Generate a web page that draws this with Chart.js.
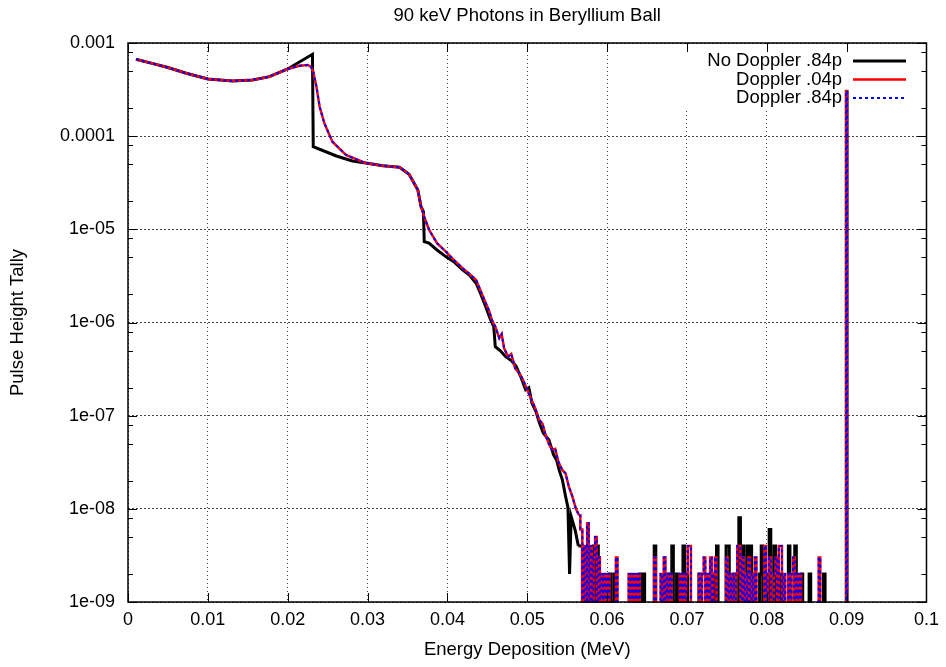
<!DOCTYPE html>
<html>
<head>
<meta charset="utf-8">
<title>90 keV Photons in Beryllium Ball</title>
<script src="https://cdn.jsdelivr.net/npm/chart.js@4"></script>
<style>
  html, body { margin: 0; padding: 0; background: #fff; }
</style>
</head>
<body>
<canvas id="pht" width="946" height="667"></canvas>
<script>
// ---- data ----
const chartTitle = '90 keV Photons in Beryllium Ball';
const seriesLabels = ['No Doppler .84p', 'Doppler .04p', 'Doppler .84p'];

const yTickValues = [1e-9, 1e-8, 1e-7, 1e-6, 1e-5, 1e-4, 1e-3];
const yTickLabels = ['1e-09', '1e-08', '1e-07', '1e-06', '1e-05', '0.0001', '0.001'];
const yMinorSteps = [2, 5, 8];

// continuum, no Doppler broadening (energy MeV, tally)
const noDopE = [0.0010, 0.0030, 0.0050, 0.0073, 0.0100, 0.0131, 0.0156, 0.0177, 0.0200, 0.0231,
  0.0232, 0.0261, 0.0281, 0.0300, 0.0319, 0.0340, 0.0352, 0.0363, 0.0367, 0.0370,
  0.0371, 0.0377, 0.0387, 0.0398, 0.0408, 0.0419, 0.0428, 0.0436, 0.0442, 0.0448,
  0.0454, 0.0458, 0.0460, 0.0466, 0.0473, 0.0480, 0.0486, 0.0492, 0.0498, 0.0502,
  0.0506, 0.0511, 0.0515, 0.0520, 0.0527, 0.0533, 0.0537, 0.0540, 0.0544, 0.0548,
  0.0551, 0.0553, 0.0555, 0.0560, 0.0564];
const noDopV = [6.68e-4, 6.05e-4, 5.45e-4, 4.73e-4, 4.11e-4, 3.91e-4, 4.01e-4, 4.35e-4, 5.26e-4, 7.57e-4,
  7.71e-5, 6.13e-5, 5.42e-5, 5.12e-5, 4.82e-5, 4.64e-5, 3.9e-5, 2.65e-5, 1.75e-5, 1.55e-5,
  7.38e-6, 7.1e-6, 6.0e-6, 5.1e-6, 4.5e-6, 3.67e-6, 3.2e-6, 2.64e-6, 2.0e-6, 1.48e-6,
  1.07e-6, 9.1e-7, 5.5e-7, 5.0e-7, 4.3e-7, 3.9e-7, 3.4e-7, 2.6e-7, 1.9e-7, 2.0e-7,
  1.36e-7, 1.1e-7, 8.5e-8, 6.5e-8, 5.5e-8, 3.8e-8, 3.3e-8, 2.6e-8, 2.05e-8, 1.36e-8,
  1.03e-8, 2e-9, 8.3e-9, 5.9e-9, 4e-9];

// continuum with Doppler broadening (.04p and .84p overlap at this scale)
const dopE = [0.0010, 0.0030, 0.0050, 0.0073, 0.0100, 0.0131, 0.0156, 0.0177, 0.0200, 0.0215,
  0.0225, 0.0229, 0.0232, 0.0236, 0.0240, 0.0246, 0.0256, 0.0273, 0.0298, 0.0319,
  0.0340, 0.0352, 0.0363, 0.0367, 0.0371, 0.0377, 0.0387, 0.0398, 0.0408, 0.0419,
  0.0428, 0.0436, 0.0442, 0.0448, 0.0452, 0.0456, 0.0460, 0.0465, 0.0468, 0.0471,
  0.0476, 0.0480, 0.0485, 0.0490, 0.0495, 0.0500, 0.0505, 0.0510, 0.0515, 0.0519,
  0.0523, 0.0527, 0.0531, 0.0535, 0.0539, 0.0544, 0.0548, 0.0552, 0.0556, 0.0561,
  0.0565];
const dopV = [6.68e-4, 6.05e-4, 5.45e-4, 4.73e-4, 4.11e-4, 3.91e-4, 4.01e-4, 4.35e-4, 5.26e-4, 5.71e-4,
  5.81e-4, 5.57e-4, 4.92e-4, 3.40e-4, 2.07e-4, 1.37e-4, 8.73e-5, 6.28e-5, 5.12e-5, 4.82e-5,
  4.64e-5, 3.9e-5, 2.65e-5, 1.75e-5, 1.37e-5, 9.9e-6, 7.1e-6, 5.77e-6, 4.7e-6, 3.83e-6,
  3.3e-6, 2.86e-6, 2.15e-6, 1.62e-6, 1.35e-6, 1.05e-6, 9.0e-7, 6.8e-7, 7.5e-7, 5.3e-7,
  4.3e-7, 4.6e-7, 3.2e-7, 2.86e-7, 2.4e-7, 1.9e-7, 1.5e-7, 1.2e-7, 9.0e-8, 8.2e-8,
  6.2e-8, 5.0e-8, 4.3e-8, 4.4e-8, 3.2e-8, 2.6e-8, 2.4e-8, 1.74e-8, 1.4e-8, 1.0e-8,
  8.5e-9];

// sparse tail: bins of 0.0002 MeV from 0.0568 MeV, counts in units of 1e-9
const tailStart = 0.0568;
const tailBin = 0.0002;
const tailUnit = 1e-9;
const noDopTail = [
  4,0,3,0,2,0,0,2,4,0,4,0,0,0,0,0,0,0,2,0,
  0,2,0,0,0,0,0,0,0,0,0,0,0,0,0,0,0,2,0,2,
  0,0,0,0,0,0,4,0,0,0,0,0,0,0,2,0,0,4,0,0,
  2,0,0,0,4,0,2,0,0,0,0,0,0,0,2,0,0,0,0,0,
  0,0,0,2,0,4,0,0,0,0,0,4,4,0,0,0,2,0,0,8,
  0,4,0,0,4,0,4,0,2,0,0,0,2,4,0,0,0,0,6,0,
  0,4,0,0,0,2,0,0,0,0,4,0,0,0,4,0,0,0,2,0,
  0,0,0,2,0,0,0,0,0,0,0,0,2,0,0,0,0];
const dopTail = [
  6,0,4,0,7,0,4,0,3,5,0,3,0,2,0,2,0,2,0,0,
  0,0,3,0,0,0,0,0,0,0,2,0,2,0,2,0,2,0,0,0,
  0,0,0,0,0,0,3,0,0,0,2,0,3,0,2,0,2,0,0,0,
  0,0,2,0,2,0,2,4,4,0,0,0,0,0,2,0,2,3,0,2,
  0,3,0,2,3,0,0,0,0,0,0,3,0,2,0,2,0,2,4,4,
  0,3,0,2,0,3,0,2,0,3,0,0,0,0,0,4,0,2,3,0,
  0,2,3,0,4,4,0,2,0,0,2,0,2,3,0,2,0,2,0,0,
  0,0,0,0,0,0,0,0,0,3,0,0,0,0,0,0,0];

// 90 keV full-energy peak
const peakE = [0.0899, 0.0900, 0.0901];
const noDopPeak = [0, 3.0e-4, 0];
const dopPeak = [0, 3.05e-4, 0];

// empty bins sit below the log axis (gnuplot draws them off the bottom)
const EMPTY = 1e-12;

function headPoints(E, V) {
  return E.map((e, i) => ({ x: e, y: V[i] }));
}

function tailPoints(E, V, tail, peakV) {
  const last = E.length - 1;
  const pts = [{ x: E[last], y: V[last] }];
  tail.forEach((c, i) => {
    pts.push({ x: Number((tailStart + i * tailBin).toFixed(4)), y: c ? c * tailUnit : EMPTY });
  });
  peakE.forEach((e, i) => pts.push({ x: e, y: peakV[i] || EMPTY }));
  return pts;
}

const FONT = '"Liberation Sans", Arial, Helvetica, sans-serif';
Chart.defaults.font.family = FONT;
Chart.defaults.color = '#000';

const styles = [
  { borderColor: '#000000', borderWidth: 3 },
  { borderColor: '#ff0000', borderWidth: 2.5 },
  { borderColor: '#0000ff', borderWidth: 2, borderDash: [3, 3] }
];

// key area (gnuplot clears the grid under it)
const keyBox = { left: 682, top: 44, right: 927, bottom: 110 };
const keyTextRight = 842;
const keySample = [853, 906];
const keyRows = [61, 79.5, 98];

const gnuFrame = {
  id: 'gnuFrame',
  beforeDatasetsDraw(chart) {
    const ctx = chart.ctx;
    ctx.save();
    ctx.fillStyle = '#fff';
    ctx.fillRect(keyBox.left, keyBox.top, keyBox.right - keyBox.left, keyBox.bottom - keyBox.top);
    ctx.restore();
  },
  afterDatasetsDraw(chart) {
    const { ctx, chartArea: a, scales: { x, y } } = chart;
    ctx.save();
    ctx.strokeStyle = '#000';
    ctx.lineWidth = 1;
    ctx.beginPath();
    x.ticks.forEach(t => {
      const px = Math.round(x.getPixelForValue(t.value)) + 0.5;
      ctx.moveTo(px, a.bottom); ctx.lineTo(px, a.bottom - 9);
      ctx.moveTo(px, a.top); ctx.lineTo(px, a.top + 9);
    });
    yTickValues.forEach((v, i) => {
      const py = Math.round(y.getPixelForValue(v)) + 0.5;
      ctx.moveTo(a.left, py); ctx.lineTo(a.left + 9, py);
      ctx.moveTo(a.right, py); ctx.lineTo(a.right - 9, py);
      if (i < yTickValues.length - 1) {
        yMinorSteps.forEach(m => {
          const pm = Math.round(y.getPixelForValue(v * m)) + 0.5;
          ctx.moveTo(a.left, pm); ctx.lineTo(a.left + 5, pm);
          ctx.moveTo(a.right, pm); ctx.lineTo(a.right - 5, pm);
        });
      }
    });
    ctx.stroke();
    ctx.lineWidth = 1.5;
    ctx.strokeRect(a.left, a.top, a.right - a.left, a.bottom - a.top);

    ctx.font = '18.5px ' + FONT;
    ctx.fillStyle = '#000';
    ctx.textBaseline = 'middle';

    // title centred over the plot, as gnuplot does
    ctx.textAlign = 'center';
    ctx.fillText(chartTitle, (a.left + a.right) / 2, 16);

    // key
    ctx.textAlign = 'right';
    seriesLabels.forEach((label, i) => {
      const yy = keyRows[i];
      const st = styles[i];
      ctx.fillText(label, keyTextRight, yy);
      ctx.strokeStyle = st.borderColor;
      ctx.lineWidth = st.borderWidth;
      ctx.setLineDash(st.borderDash || []);
      ctx.beginPath();
      ctx.moveTo(keySample[0], yy);
      ctx.lineTo(keySample[1], yy);
      ctx.stroke();
    });
    ctx.restore();
  }
};

const seriesData = [
  [noDopE, noDopV, noDopTail, noDopPeak],
  [dopE, dopV, dopTail, dopPeak],
  [dopE, dopV, dopTail, dopPeak]
];

// each series: smooth continuum as a line, sparse tail as histogram steps
const datasets = [];
seriesData.forEach(([E, V, tail, peak], i) => {
  datasets.push(Object.assign({ label: seriesLabels[i], data: headPoints(E, V), order: 6 - 2 * i }, styles[i]));
  datasets.push(Object.assign({ label: seriesLabels[i], data: tailPoints(E, V, tail, peak), stepped: 'middle', order: 5 - 2 * i }, styles[i]));
});

new Chart(document.getElementById('pht'), {
  type: 'line',
  data: { datasets },
  options: {
    responsive: false,
    animation: false,
    devicePixelRatio: 1,
    layout: { padding: { top: 43, right: 18, bottom: 0, left: 0 } },
    elements: { point: { radius: 0 }, line: { tension: 0 } },
    datasets: { line: { clip: 1 } },
    plugins: {
      legend: { display: false },
      tooltip: { enabled: false },
      title: { display: false }
    },
    scales: {
      x: {
        type: 'linear',
        min: 0,
        max: 0.1,
        afterFit: s => { s.height = 65; },
        ticks: {
          stepSize: 0.01,
          autoSkip: false,
          maxRotation: 0,
          padding: 7,
          color: '#000',
          font: { size: 18 },
          callback: v => String(Number(v.toFixed(2)))
        },
        grid: { color: '#444', lineWidth: 1, drawTicks: false },
        border: { display: false, dash: [1, 3] },
        title: {
          display: true,
          text: 'Energy Deposition (MeV)',
          color: '#000',
          font: { size: 18.5 },
          padding: { top: 0, bottom: 6 }
        }
      },
      y: {
        type: 'logarithmic',
        min: 1e-9,
        max: 1e-3,
        afterFit: s => { s.width = 128; },
        afterBuildTicks: s => { s.ticks = yTickValues.map(v => ({ value: v })); },
        ticks: {
          autoSkip: false,
          padding: 13,
          color: '#000',
          font: { size: 18 },
          callback: (v, i) => yTickLabels[i]
        },
        grid: { color: '#444', lineWidth: 1, drawTicks: false },
        border: { display: false, dash: [2, 2] },
        title: {
          display: true,
          text: 'Pulse Height Tally',
          color: '#000',
          font: { size: 18.5 },
          padding: { top: 7, bottom: 0 }
        }
      }
    }
  },
  plugins: [gnuFrame]
});
</script>
</body>
</html>
